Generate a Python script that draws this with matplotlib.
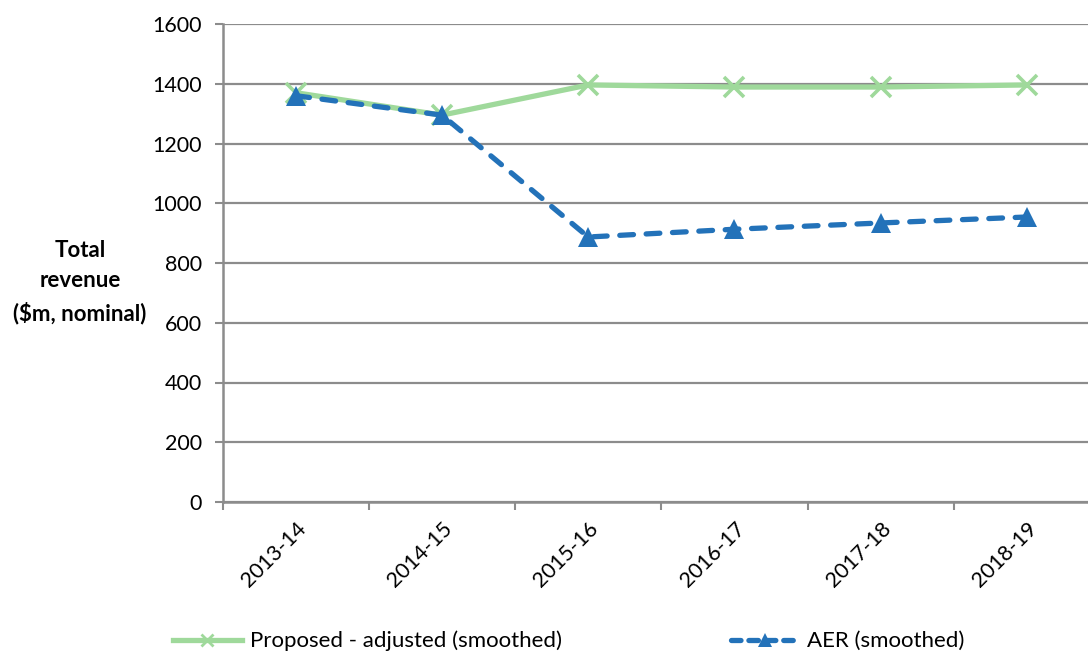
import matplotlib
matplotlib.use("Agg")
import matplotlib.pyplot as plt
from matplotlib.lines import Line2D

years = ["2013-14", "2014-15", "2015-16", "2016-17", "2017-18", "2018-19"]
proposed = [1370, 1295, 1396, 1389, 1389, 1396]
aer = [1360, 1295, 887, 913, 934, 954]
yticks = [0, 200, 400, 600, 800, 1000, 1200, 1400, 1600]

green = "#9fd99b"
blue = "#2372b9"
grid_grey = "#8c8c8c"

plt.rcParams["font.family"] = ["Lato", "DejaVu Sans"]
fs = 15.5

fig = plt.figure(figsize=(10.88, 6.51), dpi=100)
W, H = 1088, 651
left, right, bottom, top = 222.7, 1100, 502, 24
ax = fig.add_axes([left / W, 1 - bottom / H, (right - left) / W, (bottom - top) / H])

x = list(range(len(years)))
ax.plot(x, proposed, color=green, lw=3.8, marker="x", ms=14, mew=2.6,
        label="Proposed - adjusted (smoothed)", zorder=3)
ax.plot(x, aer, color=blue, lw=3.8, marker="^", ms=14, mew=0,
        dashes=(2.6, 2.4), dash_capstyle="round",
        label="AER (smoothed)", zorder=4)

ax.set_xlim(-0.5, len(years) - 0.5)
ax.set_ylim(0, 1600)
ax.set_yticks(yticks)
ax.set_yticklabels([str(v) for v in yticks], fontsize=fs)
ax.set_xticks([i - 0.5 for i in range(len(years))])
ax.set_xticklabels([])
ax.set_xticks(x, minor=True)
ax.set_xticklabels(years, minor=True, rotation=45, ha="right",
                   rotation_mode="anchor", fontsize=fs)
ax.tick_params(axis="x", which="minor", length=0, pad=12)
ax.tick_params(axis="x", which="major", length=6, color=grid_grey, width=1.5)
ax.tick_params(axis="y", length=6, color=grid_grey, width=1.5, pad=9)

ax.grid(axis="y", color=grid_grey, lw=1.6)
ax.set_axisbelow(True)
for side in ["top", "right"]:
    ax.spines[side].set_visible(False)
for side in ["left", "bottom"]:
    ax.spines[side].set_color(grid_grey)
    ax.spines[side].set_linewidth(1.8)

fig.text(80 / W, 1 - 282 / H, "Total\nrevenue\n($m, nominal)", ha="center",
         va="center", fontsize=16, fontweight="bold", linespacing=1.55)

handles = [
    Line2D([], [], color=green, lw=3.8, marker="x", ms=9, mew=2),
    Line2D([], [], color=blue, lw=3.8, marker="^", ms=10, mew=0,
           dashes=(1.8, 1.5), dash_capstyle="round"),
]
fig.legend(handles, ["Proposed - adjusted (smoothed)", "AER (smoothed)"],
           loc="center left", bbox_to_anchor=(173 / W, 1 - 641 / H), ncol=2,
           frameon=False, fontsize=16, handlelength=3.1, handletextpad=0.35,
           columnspacing=7.6, borderpad=0, borderaxespad=0)

fig.savefig("out.png", dpi=100)
